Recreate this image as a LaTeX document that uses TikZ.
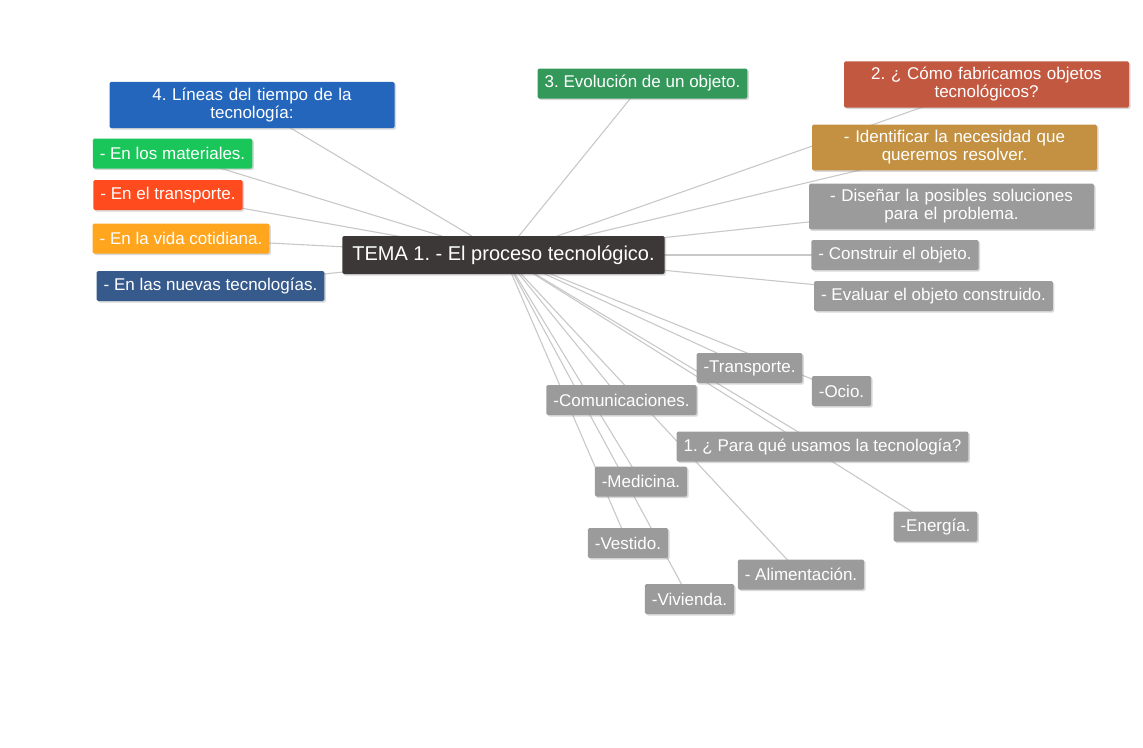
\documentclass[tikz,border=0pt]{standalone}
\usepackage{fontspec}
\setmainfont{Liberation Sans}
\usetikzlibrary{backgrounds,shadows}
\frenchspacing
\definecolor{lineasblue}{RGB}{35,102,188}
\definecolor{matgreen}{RGB}{26,198,90}
\definecolor{transred}{RGB}{255,75,30}
\definecolor{vidaorange}{RGB}{255,165,30}
\definecolor{nuevasblue}{RGB}{55,90,140}
\definecolor{temadark}{RGB}{60,56,55}
\definecolor{evolgreen}{RGB}{52,152,90}
\definecolor{comored}{RGB}{195,88,65}
\definecolor{identgold}{RGB}{195,145,65}
\definecolor{boxgray}{RGB}{155,155,155}
\definecolor{linkgray}{RGB}{200,200,200}
\tikzset{
	topic/.style = {fill = #1, text = white, inner xsep = 7pt, inner ysep = 6pt, minimum height = 30pt,
		rounded corners = 1.5pt, font = \fontsize{17}{18}\selectfont,
		drop shadow = {opacity = 0.3, shadow xshift = 1.5pt, shadow yshift = -1.5pt}},
	topic/.default = boxgray,
	wide/.style = {text width = 271pt, align = center},
	link/.style = {draw = linkgray, line width = 1.1pt}
}
\begin{document}
\begin{tikzpicture}[x = 1pt, y = -1pt]
	\useasboundingbox (0, 0) rectangle (1143, 747);
	\node [topic = temadark, inner xsep = 10pt, minimum height = 38pt, font = \fontsize{20}{22}\selectfont] (tema) at (503.5, 255) {TEMA 1. - El proceso tecnológico.};
	% rama 4
	\node [topic = lineasblue, wide] (lineas) at (252, 105) {4. Líneas del tiempo de la\\tecnología:};
	\node [topic = matgreen] (materiales) at (172.5, 153.5) {- En los materiales.};
	\node [topic = transred] (transp) at (168, 195) {- En el transporte.};
	\node [topic = vidaorange] (vida) at (181, 238.5) {- En la vida cotidiana.};
	\node [topic = nuevasblue] (nuevas) at (210.5, 286) {- En las nuevas tecnologías.};
	% rama 3
	\node [topic = evolgreen] (evolucion) at (642.5, 83.5) {3. Evolución de un objeto.};
	% rama 2
	\node [topic = comored, wide] (como) at (986.5, 84.5) {2. ¿ Cómo fabricamos objetos\\tecnológicos?};
	\node [topic = identgold, wide] (identificar) at (954.5, 147.5) {- Identificar la necesidad que\\queremos resolver.};
	\node [topic, wide] (disenar) at (951.5, 206.5) {- Diseñar la posibles soluciones\\para el problema.};
	\node [topic] (construir) at (895, 255) {- Construir el objeto.};
	\node [topic] (evaluar) at (933.5, 296) {- Evaluar el objeto construido.};
	% rama 1
	\node [topic] (transporte) at (749.5, 368) {-Transporte.};
	\node [topic] (ocio) at (841.5, 391) {-Ocio.};
	\node [topic] (comunic) at (621.5, 400) {-Comunicaciones.};
	\node [topic] (paraque) at (822.5, 446.5) {1. ¿ Para qué usamos la tecnología?};
	\node [topic] (medicina) at (641, 481.5) {-Medicina.};
	\node [topic] (energia) at (935.5, 526.5) {-Energía.};
	\node [topic] (vestido) at (628, 543) {-Vestido.};
	\node [topic] (aliment) at (801, 574.5) {- Alimentación.};
	\node [topic] (vivienda) at (689.5, 599) {-Vivienda.};
	\begin{scope}[on background layer]
		\foreach \n in {lineas, materiales, transp, vida, nuevas, evolucion, como, identificar, disenar, construir, evaluar,
			transporte, ocio, comunic, paraque, medicina, energia, vestido, aliment, vivienda}
		{
			\draw [link] (tema.center) -- (\n.center);
		}
	\end{scope}
\end{tikzpicture}
\end{document}
